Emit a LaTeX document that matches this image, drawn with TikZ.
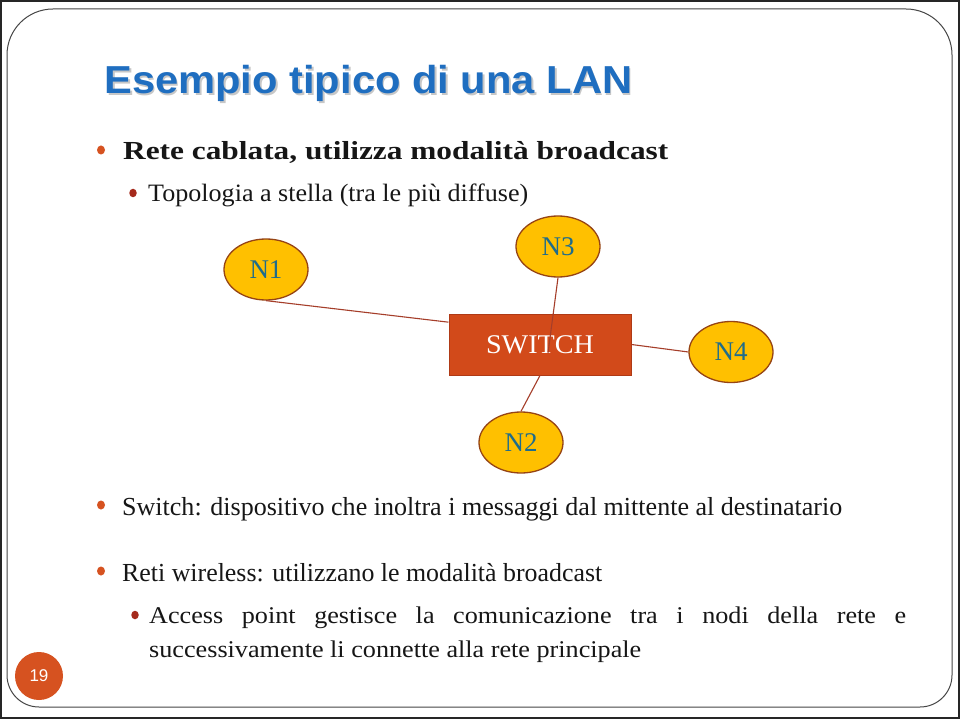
\documentclass[tikz,border=0pt]{standalone}
\usepackage{fontspec}
\setmainfont{Liberation Serif}
\newfontfamily\sansfnt{Liberation Sans}
\usetikzlibrary{shapes.geometric,calc}
\definecolor{titleblue}{RGB}{31,110,192}
\definecolor{bulletA}{RGB}{214,82,32}
\definecolor{bulletB}{RGB}{165,42,28}
\definecolor{switchfill}{RGB}{210,74,26}
\definecolor{switchline}{RGB}{175,58,22}
\definecolor{nodefill}{RGB}{255,192,0}
\definecolor{nodeline}{RGB}{150,68,20}
\definecolor{labelteal}{RGB}{30,108,140}
\definecolor{linkcol}{RGB}{165,62,42}
\definecolor{textblack}{RGB}{22,22,22}
\definecolor{framecol}{RGB}{70,70,70}
\newcommand{\fitto}[2]{\resizebox{#1}{\height}{#2}}
\newlength\Lsix
\begin{document}
\settowidth{\Lsix}{\fontsize{24}{28}\selectfont successivamente li connette alla rete principale}%
\pgfmathsetmacro\rr{492/\Lsix}%
\pgfmathsetmacro\wfive{757/\rr}%
\begin{tikzpicture}[x=1pt,y=-1pt,
  netnode/.style={ellipse,draw=nodeline,fill=nodefill,line width=1.3pt,
    minimum width=84pt,minimum height=61pt,inner sep=0pt,
    text=labelteal,font=\fontsize{27}{30}\selectfont},
  switchbox/.style={rectangle,draw=switchline,fill=switchfill,line width=1pt,
    minimum width=182pt,minimum height=61pt,inner sep=0pt,
    text=white,font=\fontsize{27}{30}\selectfont},
  link/.style={draw=linkcol,line width=1.1pt},
  bulA/.style={ellipse,fill=bulletA,minimum width=8pt,minimum height=9pt,inner sep=0pt},
  bulB/.style={ellipse,fill=bulletB,minimum width=7.5pt,minimum height=8.5pt,inner sep=0pt},
  txt/.style={anchor=base west,inner sep=0pt,text=textblack}]
\useasboundingbox (0,0) rectangle (960,719);
\fill[white] (0,0) rectangle (960,719);
% outer border
\draw[black!85,line width=2pt] (1,1) rectangle (959,718);
% inner frame
\draw[framecol,line width=1pt] (7,360) [rounded corners=46pt] -- (7,9) -- (952,9) -- (952,360)
  [rounded corners=32pt] -- (952,707) -- (7,707) -- (7,360);

% title with soft shadow
\node[anchor=base west,inner sep=0pt,text=black!22] (titleshadow) at (105.8,95.2)
  {\fitto{528pt}{\sansfnt\bfseries\fontsize{39}{44}\selectfont Esempio tipico di una LAN}};
\node[anchor=base west,inner sep=0pt,text=titleblue] (title) at (104,93.3)
  {\fitto{528pt}{\sansfnt\bfseries\fontsize{39}{44}\selectfont Esempio tipico di una LAN}};

% bullets
\node[bulA] (b1) at (101,150) {};
\node[txt] (t1) at (123,160) {\fitto{545pt}{\fontsize{26}{30}\selectfont\bfseries Rete cablata, utilizza modalità broadcast}};
\node[bulB] (b2) at (133,193) {};
\node[txt] (t2) at (148,201.5) {\fitto{380pt}{\fontsize{25}{30}\selectfont Topologia a stella (tra le più diffuse)}};

% diagram
\node[switchbox] (sw) at (540,344.5) {\fitto{108pt}{SWITCH}};
\node[netnode] (n1) at (266,269.5) {N1};
\node[netnode] (n3) at (558,246.5) {N3};
\node[netnode] (n4) at (731,352) {N4};
\node[netnode] (n2) at (521,442.5) {N2};
\coordinate (n3end) at (548,353);
\draw[link] (n1.south) -- ($(sw.north west)!0.14!(sw.south west)$);
\draw[link] (sw.east) -- (n4.west);
\draw[link] (sw.south) -- (n2.north);
\draw[link] (n3.south) -- (n3end);

% lower bullets
\node[bulA] (b3) at (101,505) {};
\node[txt] (t3) at (122,515) {\fitto{720pt}{\fontsize{26}{30}\selectfont Switch: dispositivo che inoltra i messaggi dal mittente al destinatario}};
\node[bulA] (b4) at (101,571) {};
\node[txt] (t4) at (122,581.5) {\fitto{480pt}{\fontsize{26}{30}\selectfont Reti wireless: utilizzano le modalità broadcast}};
\node[bulB] (b5) at (135,615) {};
\node[txt] (t5) at (149,623) {\scalebox{\rr}[1]{\fontsize{24}{28}\selectfont\makebox[\wfive pt][s]{Access point gestisce la comunicazione tra i nodi della rete e}}};
\node[txt] (t6) at (149,657) {\fitto{492pt}{\fontsize{24}{28}\selectfont successivamente li connette alla rete principale}};

% page number
\node[circle,fill=bulletA,minimum size=48pt,inner sep=0pt,text=white,font=\sansfnt\fontsize{17}{20}\selectfont] (pg) at (39,676) {19};
\end{tikzpicture}
\end{document}
